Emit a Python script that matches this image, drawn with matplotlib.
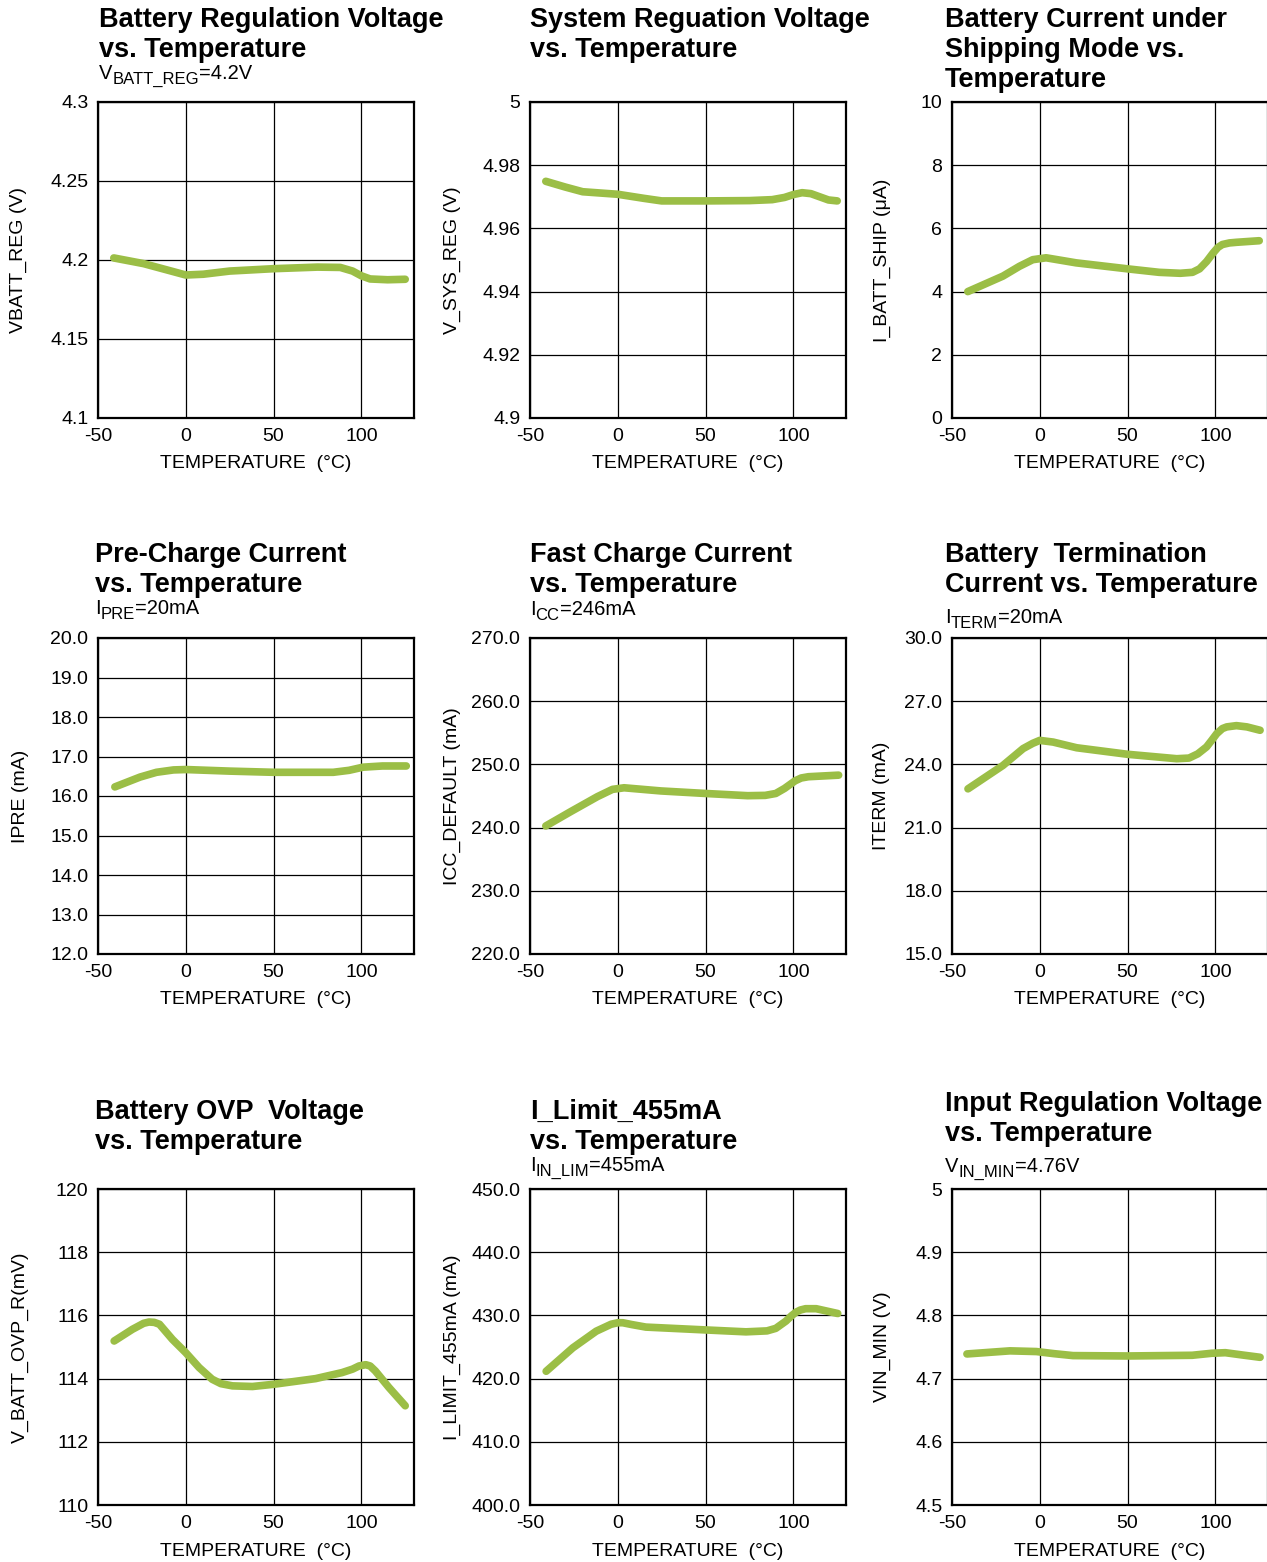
import matplotlib
matplotlib.use("Agg")
import matplotlib.pyplot as plt

plt.rcParams['font.family'] = ['Liberation Sans', 'DejaVu Sans']

W, H = 1267, 1562
GREEN = '#9BBE46'

# ---- data ----
vbatt_t = [-41, -24, -10, 0, 10, 25, 50, 75, 88, 95, 100, 105, 115, 125]
vbatt_v = [4.2013, 4.1977, 4.1935, 4.1905, 4.191, 4.193, 4.1945, 4.1955, 4.1953,
           4.193, 4.190, 4.188, 4.1875, 4.1878]

vsys_t = [-41, -30, -20, -5, 0, 15, 25, 50, 75, 88, 95, 100, 105, 110, 120, 125]
vsys_v = [4.9749, 4.9731, 4.9716, 4.971, 4.9708, 4.9695, 4.9687, 4.9687, 4.9688,
          4.9691, 4.9698, 4.9707, 4.9713, 4.971, 4.969, 4.9687]

iship_t = [-41, -21, -11.6, -4, 3.6, 20.7, 50, 68, 80, 87, 91, 95, 98.7, 101.5,
           104, 108, 112, 125]
iship_v = [4.0, 4.49, 4.8, 5.01, 5.07, 4.91, 4.72, 4.61, 4.58, 4.61, 4.72, 4.95,
           5.22, 5.4, 5.49, 5.54, 5.56, 5.61]

ipre_t = [-40.4, -26, -16.7, -7, 0, 25, 50, 84, 93, 101, 112, 125.6]
ipre_v = [16.23, 16.48, 16.6, 16.66, 16.67, 16.63, 16.6, 16.6, 16.65, 16.73, 16.76, 16.76]

icc_t = [-41, -27, -11.6, -3, 3.6, 24.6, 50, 74, 84, 90, 95, 98, 101, 104.5,
         108.6, 125.8]
icc_v = [240.26, 242.5, 244.9, 246.05, 246.3, 245.8, 245.4, 245.05, 245.1, 245.4,
         246.2, 246.8, 247.4, 247.85, 248.05, 248.3]

iterm_t = [-40.9, -21, -9.5, -4, 0, 7.6, 21, 50, 78, 85, 90, 95, 98, 100.8, 104,
           106.5, 112, 118, 125.5]
iterm_v = [22.84, 23.95, 24.75, 25.0, 25.14, 25.06, 24.79, 24.48, 24.27, 24.3,
           24.5, 24.83, 25.15, 25.46, 25.7, 25.78, 25.84, 25.78, 25.62]

ovp_t = [-40.8, -30.4, -24, -21, -18, -15, -7.6, 0, 7.6, 15, 20, 26.6, 38, 50, 74,
         89, 95, 98.7, 102.5, 105, 108, 115.7, 125]
ovp_v = [115.19, 115.56, 115.75, 115.79, 115.78, 115.72, 115.24, 114.82, 114.35,
         113.98, 113.84, 113.77, 113.75, 113.82, 114.0, 114.19, 114.3, 114.4,
         114.44, 114.4, 114.24, 113.72, 113.14]

ilim_t = [-40.8, -25.6, -12.3, -3.8, 0, 2.8, 8, 16, 50, 73, 85, 90, 95.8, 99,
          101.5, 104, 107, 113, 125.3]
ilim_v = [421.16, 424.87, 427.5, 428.6, 428.84, 428.84, 428.55, 428.15, 427.7,
          427.4, 427.55, 427.95, 429.1, 429.95, 430.5, 430.85, 431.06, 431.06, 430.3]

vin_t = [-41.5, -17, -1.9, 8, 18.9, 50, 86.8, 98, 105.7, 115, 125.5]
vin_v = [4.739, 4.7439, 4.7428, 4.7395, 4.7364, 4.7358, 4.7369, 4.7401, 4.741,
         4.7375, 4.7337]

x_ticks = [-50, 0, 50, 100]

vbatt_ticks = [4.1, 4.15, 4.2, 4.25, 4.3]
vsys_ticks = [4.9, 4.92, 4.94, 4.96, 4.98, 5.0]
iship_ticks = [0, 2, 4, 6, 8, 10]
ipre_ticks = [12, 13, 14, 15, 16, 17, 18, 19, 20]
icc_ticks = [220, 230, 240, 250, 260, 270]
iterm_ticks = [15, 18, 21, 24, 27, 30]
ovp_ticks = [110, 112, 114, 116, 118, 120]
ilim_ticks = [400, 410, 420, 430, 440, 450]
vin_ticks = [4.5, 4.6, 4.7, 4.8, 4.9, 5.0]

vbatt_labels = ['4.1', '4.15', '4.2', '4.25', '4.3']
vsys_labels = ['4.9', '4.92', '4.94', '4.96', '4.98', '5']
iship_labels = ['0', '2', '4', '6', '8', '10']
ipre_labels = [f'{v:.1f}' for v in ipre_ticks]
icc_labels = [f'{v:.1f}' for v in icc_ticks]
iterm_labels = [f'{v:.1f}' for v in iterm_ticks]
ovp_labels = [str(v) for v in ovp_ticks]
ilim_labels = [f'{v:.1f}' for v in ilim_ticks]
vin_labels = ['4.5', '4.6', '4.7', '4.8', '4.9', '5']

# panel layout in pixels: axes top-left, title top-left, subtitle baseline, ylabel x
panels = [
    dict(t=vbatt_t, v=vbatt_v, ticks=vbatt_ticks, labels=vbatt_labels,
         ylabel='VBATT_REG (V)', title='Battery Regulation Voltage\nvs. Temperature',
         sub=('V', 'BATT_REG', '=4.2V'),
         ax=(98, 102), tpos=(99, 7), spos=(99, 79), ylx=18),
    dict(t=vsys_t, v=vsys_v, ticks=vsys_ticks, labels=vsys_labels,
         ylabel='V_SYS_REG (V)', title='System Reguation Voltage\nvs. Temperature',
         sub=None, ax=(530, 102), tpos=(530, 7), spos=None, ylx=452),
    dict(t=iship_t, v=iship_v, ticks=iship_ticks, labels=iship_labels,
         ylabel='I_BATT_SHIP (\u03bcA)',
         title='Battery Current under\nShipping Mode vs.\nTemperature',
         sub=None, ax=(952, 102), tpos=(945, 7), spos=None, ylx=882),
    dict(t=ipre_t, v=ipre_v, ticks=ipre_ticks, labels=ipre_labels,
         ylabel='IPRE (mA)', title='Pre-Charge Current\nvs. Temperature',
         sub=('I', 'PRE', '=20mA'),
         ax=(98, 638), tpos=(95, 542), spos=(95, 614), ylx=20),
    dict(t=icc_t, v=icc_v, ticks=icc_ticks, labels=icc_labels,
         ylabel='ICC_DEFAULT (mA)', title='Fast Charge Current\nvs. Temperature',
         sub=('I', 'CC', '=246mA'),
         ax=(530, 638), tpos=(530, 542), spos=(530, 615), ylx=452),
    dict(t=iterm_t, v=iterm_v, ticks=iterm_ticks, labels=iterm_labels,
         ylabel='ITERM (mA)', title='Battery  Termination\nCurrent vs. Temperature',
         sub=('I', 'TERM', '=20mA'),
         ax=(952, 638), tpos=(945, 542), spos=(945, 623), ylx=882),
    dict(t=ovp_t, v=ovp_v, ticks=ovp_ticks, labels=ovp_labels,
         ylabel='V_BATT_OVP_R(mV)', title='Battery OVP  Voltage\nvs. Temperature',
         sub=None, ax=(98, 1189), tpos=(95, 1099), spos=None, ylx=20),
    dict(t=ilim_t, v=ilim_v, ticks=ilim_ticks, labels=ilim_labels,
         ylabel='I_LIMIT_455mA (mA)', title='I_Limit_455mA\nvs. Temperature',
         sub=('I', 'IN_LIM', '=455mA'),
         ax=(530, 1189), tpos=(530, 1099), spos=(530, 1171), ylx=452),
    dict(t=vin_t, v=vin_v, ticks=vin_ticks, labels=vin_labels,
         ylabel='VIN_MIN (V)', title='Input Regulation Voltage\nvs. Temperature',
         sub=('V', 'IN_MIN', '=4.76V'),
         ax=(952, 1189), tpos=(945, 1091), spos=(945, 1172), ylx=882),
]

AW, AH = 316, 316

fig = plt.figure(figsize=(W / 100, H / 100), dpi=100)

for p in panels:
    x0, y0 = p['ax']
    ax = fig.add_axes([x0 / W, 1 - (y0 + AH) / H, AW / W, AH / H])
    ax.plot(p['t'], p['v'], color=GREEN, linewidth=5.5, solid_capstyle='round',
            solid_joinstyle='round', zorder=3)
    ax.set_xlim(-50, 130)
    ax.set_ylim(p['ticks'][0], p['ticks'][-1])
    ax.set_xticks(x_ticks)
    ax.set_xticklabels([str(v) for v in x_ticks])
    ax.set_yticks(p['ticks'])
    ax.set_yticklabels(p['labels'])
    ax.tick_params(length=0, labelsize=14, pad=7)
    ax.grid(True, color='black', linewidth=0.9)
    for s in ax.spines.values():
        s.set_linewidth(1.6)
        s.set_color('black')
    ax.set_xlabel('TEMPERATURE  (\u00b0C)', fontsize=14, va='center')
    ax.xaxis.set_label_coords(0.5, -46 / AH)
    ax.set_ylabel(p['ylabel'], fontsize=14, va='center')
    ax.yaxis.set_label_coords((p['ylx'] - x0) / AW, 0.5)

    tx, ty = p['tpos']
    fig.text(tx / W, 1 - ty / H, p['title'], fontsize=19.5, fontweight='bold',
             va='top', ha='left', linespacing=1.2)

    if p['sub']:
        main, sub, rest = p['sub']
        sx, sy = p['spos']
        t1 = fig.text(sx / W, 1 - sy / H, main, fontsize=14.5, va='baseline')
        t2 = ax.annotate(sub, xy=(1, H - sy - 5), xycoords=(t1, 'figure pixels'),
                         fontsize=12, va='baseline', annotation_clip=False)
        ax.annotate(rest, xy=(1, H - sy), xycoords=(t2, 'figure pixels'),
                    fontsize=14.5, va='baseline', annotation_clip=False)

fig.savefig('out.png', dpi=100, facecolor='white')
